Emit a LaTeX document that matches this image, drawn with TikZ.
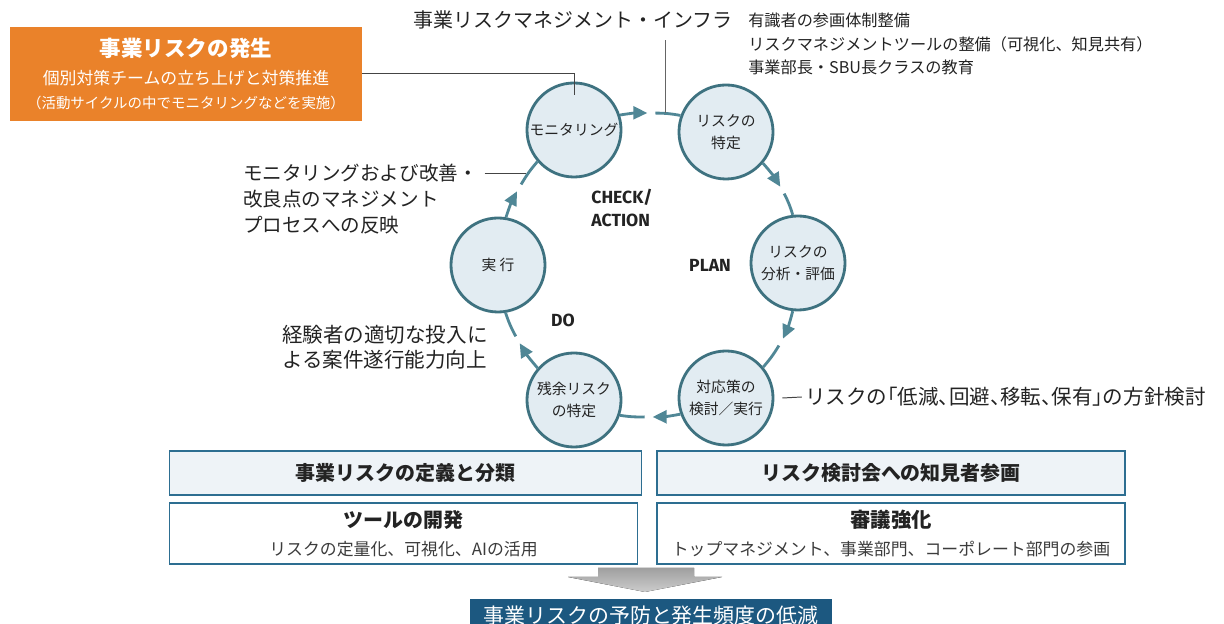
\documentclass[tikz,border=0pt]{standalone}
\usepackage{fontspec}
\setmainfont{Noto Sans CJK JP}
\newfontfamily\halffont{Noto Sans CJK JP}[RawFeature=+halt]
\newfontfamily\latinfont{Fira Sans}
\usetikzlibrary{arrows.meta,shapes}

\definecolor{ringline}{RGB}{62,114,128}
\definecolor{ringfill}{RGB}{226,236,242}
\definecolor{flowcol}{RGB}{80,135,150}
\definecolor{boxline}{RGB}{45,110,145}
\definecolor{boxfill}{RGB}{238,243,247}
\definecolor{deepblue}{RGB}{28,88,128}
\definecolor{riskorange}{RGB}{234,130,42}
\definecolor{ink}{RGB}{35,35,35}
\definecolor{subink}{RGB}{60,60,60}

\begin{document}
\begin{tikzpicture}[x=0.025cm, y=0.025cm, >={Triangle[length=0.35cm,width=0.32cm]},
                    text=ink, font=\fontsize{10.5}{15.6}\selectfont]
  \tikzstyle{phase}=[circle, draw=ringline, fill=ringfill, line width=2pt,
                     minimum size=2.35cm, inner sep=0pt, align=center]
  \tikzstyle{flow}=[color=flowcol, line width=2pt]
  \tikzstyle{note}=[draw=ink!85, line width=0.7pt]
  \tikzstyle{bar}=[rectangle, draw=boxline, line width=1.2pt, minimum height=1.1cm,
                   fill=boxfill, font=\fontsize{14.2}{18}\selectfont\bfseries]
  \tikzstyle{pane}=[rectangle, draw=boxline, line width=1.2pt, minimum height=1.53cm,
                    fill=white, align=center, font=\fontsize{12}{19.8}\selectfont]
  \tikzstyle{cycletag}=[font=\latinfont\bfseries\fontsize{12.5}{16.5}\selectfont, align=left]

  \path[use as bounding box, fill=white] (0,0) rectangle (1224,624);

  \coordinate (ctr) at (650,359);

	\node[phase] (mon) at (574,494) {モニタリング};
	\node[phase] (tok) at (726,492) {リスクの\\特定};
	\node[phase] (ana) at (798,361) {リスクの\\分析・評価};
	\node[phase] (tai) at (726,226) {対応策の\\検討／実行};
	\node[phase] (zan) at (574,224) {残余リスク\\の特定};
	\node[phase] (jik) at (498,359) {実 行};

  % tip and restart points of the cycle arrows
  \foreach \a [count=\i] in {90,30,-30,-90,-150,150}{
    \path (ctr) ++(\a+1:152) coordinate (a\i)
          (ctr) ++(\a-2:152) coordinate (b\i);
  }

	\path[flow]
    (mon) edge [->, bend left=5] (a1)
    (b1)  edge [bend left=5]     (tok)
    (tok) edge [->, bend left=5] (a2)
    (b2)  edge [bend left=5]     (ana)
    (ana) edge [->, bend left=5] (a3)
    (b3)  edge [bend left=5]     (tai)
    (tai) edge [->, bend left=5] (a4)
    (b4)  edge [bend left=5]     (zan)
    (zan) edge [->, bend left=5] (a5)
    (b5)  edge [bend left=5]     (jik)
    (jik) edge [->, bend left=5] (a6)
    (b6)  edge [bend left=5]     (mon);

  \node[cycletag] (chk) at (622,416) {CHECK/\\ACTION};
  \node[cycletag] (pln) at (710,359) {PLAN};
  \node[cycletag] (dox) at (563,304) {DO};

  % risk occurrence
	\node[rectangle, fill=riskorange, text=white, minimum width=8.8cm, minimum height=2.35cm,
        align=center, inner sep=0pt, font=\fontsize{12}{17}\selectfont] (occ) at (186,550)
    {{\fontsize{15.3}{20}\selectfont\bfseries 事業リスクの発生}\\[3pt]
     個別対策チームの立ち上げと対策推進\\
     {\fontsize{10.3}{14}\selectfont （活動サイクルの中でモニタリングなどを実施）}};
  \draw[note] (occ.east) -| ([yshift=-0.33cm]mon.north);

  % infrastructure
  \node[font=\fontsize{14.2}{18}\selectfont] (infra) at (573,604) {事業リスクマネジメント・インフラ};
  \node[anchor=west, inner sep=0pt, align=left, font=\fontsize{11.5}{16.5}\selectfont] (infx) at (748,580)
    {有識者の参画体制整備\\
     リスクマネジメントツールの整備（可視化、知見共有）\\
     事業部長・SBU長クラスの教育};
  \coordinate (inf) at (665,511);
  \draw[note, ink!70] (inf) -- ([yshift=-0.15cm]inf |- infra.south);

  % notes around the cycle
  \node[anchor=west, inner sep=2pt, align=left, font=\fontsize{13.9}{18.4}\selectfont] (imp) at (240,425)
    {モニタリングおよび改善・\\改良点のマネジメント\\プロセスへの反映};
  \coordinate (mln) at (526,451);
  \draw[note] ([xshift=0.1cm]imp.east |- mln) -- (mln);

  \node[anchor=west, inner sep=0pt, align=left, font=\fontsize{14.6}{17.7}\selectfont] (exp) at (282,277)
    {経験者の適切な投入に\\よる案件遂行能力向上};

  \node[anchor=west, inner sep=0pt, font=\halffont\fontsize{14.6}{18}\selectfont] (pol) at (805,227)
    {リスクの「低減、回避、移転、保有」の方針検討};
  \draw[note] ([xshift=0.2cm]tai.east) -- ([xshift=-0.08cm]pol.west);

  % infrastructure boxes
	\node[bar, minimum width=11.8cm] (def) at (405.5,151) {事業リスクの定義と分類};
	\node[bar, minimum width=11.7cm] (mtg) at (891,151) {リスク検討会への知見者参画};
	\node[pane, minimum width=11.7cm] (tool) at (403.5,90.5)
    {{\fontsize{14.2}{18}\selectfont\bfseries ツールの開発}\\
     {\color{subink}リスクの定量化、可視化、AIの活用}};
	\node[pane, minimum width=11.7cm] (rev) at (891,90.5)
    {{\fontsize{14.5}{18}\selectfont\bfseries 審議強化}\\
     {\color{subink}トップマネジメント、事業部門、コーポレート部門の参画}};

  % result
  \fill[top color=gray!75, bottom color=gray!40]
    (598,56) -- (694,56) -- (694,47) -- (722,47) -- (645,32) -- (568,47) -- (598,47) -- cycle;
	\node[rectangle, fill=deepblue, text=white, minimum width=9.05cm, minimum height=0.8cm,
        font=\fontsize{14.9}{18}\selectfont] (res) at (651,8.5) {事業リスクの予防と発生頻度の低減};

\end{tikzpicture}
\end{document}
